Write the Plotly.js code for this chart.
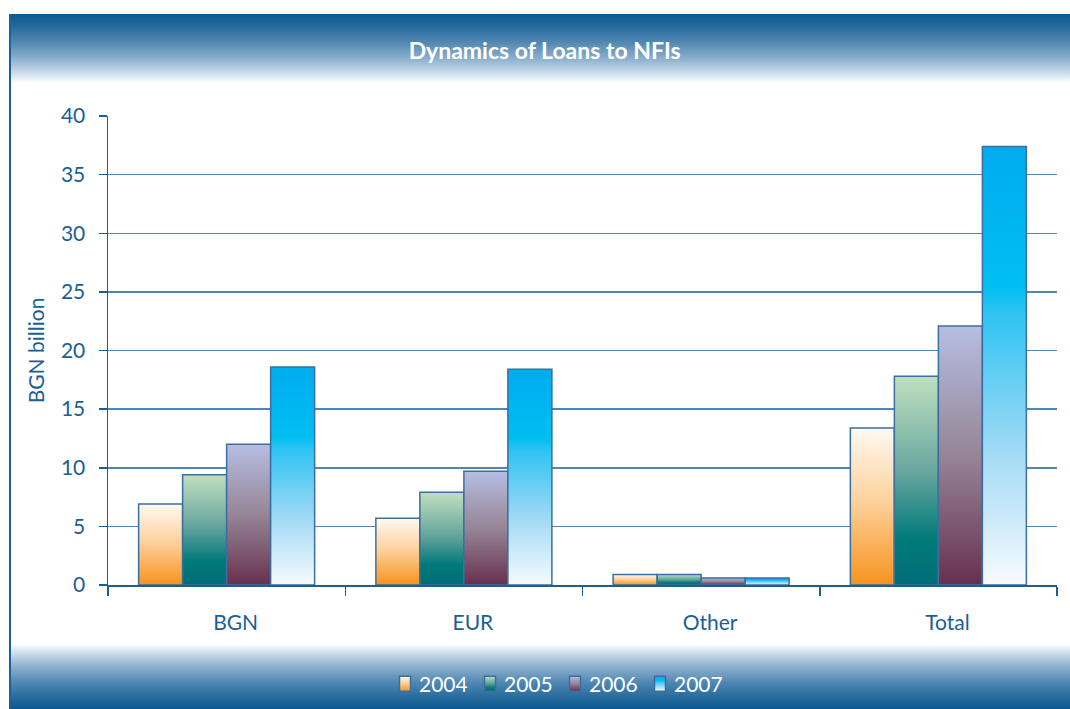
<!DOCTYPE html>
<html>
<head>
<meta charset="utf-8">
<script src="https://cdn.plot.ly/plotly-3.0.1.min.js"></script>
<style>
  html, body { margin: 0; padding: 0; background: #ffffff; }
  #frame { position: relative; width: 1070px; height: 709px; overflow: hidden; }
  #bandTop {
    position: absolute; left: 9px; top: 14px; width: 1061px; height: 69px;
    background: linear-gradient(to bottom, #0b5890 0%, #1f6699 14%, #4f86b2 40%, #8fb2cf 66%, #d3e2ee 88%, #ffffff 100%);
  }
  #bandBottom {
    position: absolute; left: 9px; top: 644px; width: 1061px; height: 65px;
    background: linear-gradient(to top, #0b5890 0%, #1f6699 14%, #4f86b2 40%, #8fb2cf 66%, #d3e2ee 88%, #ffffff 100%);
  }
  #edgeLeft { position: absolute; left: 9px; top: 14px; width: 2px; height: 695px; background: #1f5f94; }
  #chart { position: absolute; left: 0; top: 0; width: 1070px; height: 709px; }
</style>
</head>
<body>
<div id="frame">
  <div id="bandTop"></div>
  <div id="bandBottom"></div>
  <div id="edgeLeft"></div>
  <div id="chart"></div>
</div>
<script>
// Loans to non-financial institutions, BGN billion
const categories = ["BGN", "EUR", "Other", "Total"];
const years = ["2004", "2005", "2006", "2007"];
const values2004 = [6.9, 5.7, 0.9, 13.4];
const values2005 = [9.4, 7.9, 0.9, 17.8];
const values2006 = [12.0, 9.7, 0.6, 22.1];
const values2007 = [18.6, 18.4, 0.6, 37.4];
const yTicks = [0, 5, 10, 15, 20, 25, 30, 35, 40];

const seriesValues = [values2004, values2005, values2006, values2007];

// vertical gradient per year (top -> bottom)
const gradientStops = [
  [[0, "#fff9f2"], [0.45, "#fdd3a0"], [1, "#f7931d"]],
  [[0, "#bfe0bf"], [0.45, "#6aa7a0"], [0.78, "#017a7a"], [1, "#006d75"]],
  [[0, "#b6bee2"], [0.5, "#968596"], [1, "#67304f"]],
  [[0, "#00acee"], [0.32, "#00bef2"], [0.38, "#2fc4f3"], [0.7, "#a3daf5"], [1, "#f7fbfe"]]
];
const flatColors = ["#f9b46a", "#3f8f8a", "#8a6b80", "#3fc3f3"];

const blue = "#1b5e94";
const font = "Lato, 'Open Sans', sans-serif";

const traces = years.map((yr, i) => ({
  type: "bar",
  name: yr,
  x: categories,
  y: seriesValues[i],
  marker: { color: flatColors[i], line: { color: "#3a6f9f", width: 1.5 } },
  hoverinfo: "skip"
}));

const layout = {
  width: 1070,
  height: 709,
  margin: { l: 108, r: 13, t: 116, b: 124 },
  paper_bgcolor: "rgba(0,0,0,0)",
  plot_bgcolor: "rgba(0,0,0,0)",
  barmode: "group",
  bargap: 0.258,
  bargroupgap: 0,
  showlegend: true,
  title: {
    text: "<b>Dynamics of Loans to NFIs</b>",
    font: { family: font, size: 23, color: "#ffffff" },
    x: 0.509, xanchor: "center",
    yref: "container", y: 1 - 51 / 709, yanchor: "middle"
  },
  xaxis: {
    type: "category",
    showgrid: false,
    showline: true, linecolor: blue, linewidth: 1.5,
    ticks: "outside", ticklen: 9, tickwidth: 1.5, tickcolor: blue,
    tickson: "boundaries",
    ticklabelshift: 9,
    ticklabelstandoff: 18,
    tickfont: { family: font, size: 21, color: blue },
    zeroline: false
  },
  yaxis: {
    range: [0, 40],
    tickvals: yTicks,
    ticktext: yTicks.map(String),
    showgrid: true, gridcolor: "#4f86b4", gridwidth: 1.5,
    showline: true, linecolor: blue, linewidth: 1.5,
    ticks: "outside", ticklen: 8, tickwidth: 1.5, tickcolor: blue,
    ticklabelstandoff: 9,
    tickfont: { family: font, size: 21, color: blue },
    zeroline: false,
    title: { text: "BGN billion", font: { family: font, size: 21, color: blue }, standoff: 10 }
  },
  legend: {
    orientation: "h",
    xref: "container", x: 549 / 1070, xanchor: "center",
    yref: "container", y: 25 / 709, yanchor: "middle",
    entrywidth: 40, entrywidthmode: "pixels",
    font: { family: font, size: 21, color: "#ffffff" },
    bgcolor: "rgba(0,0,0,0)",
    itemclick: false, itemdoubleclick: false,
    traceorder: "normal"
  }
};

Plotly.newPlot("chart", traces, layout, { displayModeBar: false, staticPlot: true }).then(gd => {
  const svgNS = "http://www.w3.org/2000/svg";
  const svg = gd.querySelector("svg.main-svg");
  const defs = document.createElementNS(svgNS, "defs");
  gradientStops.forEach((stops, i) => {
    const g = document.createElementNS(svgNS, "linearGradient");
    g.setAttribute("id", "barfill" + i);
    g.setAttribute("x1", "0"); g.setAttribute("y1", "0");
    g.setAttribute("x2", "0"); g.setAttribute("y2", "1");
    stops.forEach(([off, col]) => {
      const s = document.createElementNS(svgNS, "stop");
      s.setAttribute("offset", off);
      s.setAttribute("stop-color", col);
      g.appendChild(s);
    });
    defs.appendChild(g);
  });
  svg.insertBefore(defs, svg.firstChild);

  // apply the gradients to the bars of each year
  gd.querySelectorAll(".barlayer .trace").forEach((tr, i) => {
    tr.querySelectorAll("path").forEach(p => { p.style.fill = "url(#barfill" + i + ")"; });
  });
  // let the compact legend entries overflow their box instead of being cut
  gd.querySelectorAll(".legend .scrollbox").forEach(el => el.removeAttribute("clip-path"));
  // legend keys: narrow upright tiles placed close to their labels
  gd.querySelectorAll(".legend .traces").forEach((tr, i) => {
    tr.querySelectorAll(".legendpoints path").forEach(p => {
      p.setAttribute("d", "M11.5,7.5H0.5V-7.5H11.5Z");
      p.style.fill = "url(#barfill" + i + ")";
      p.style.stroke = "#3a6f9f";
      p.style.strokeWidth = "1.5px";
    });
  });
});
</script>
</body>
</html>
